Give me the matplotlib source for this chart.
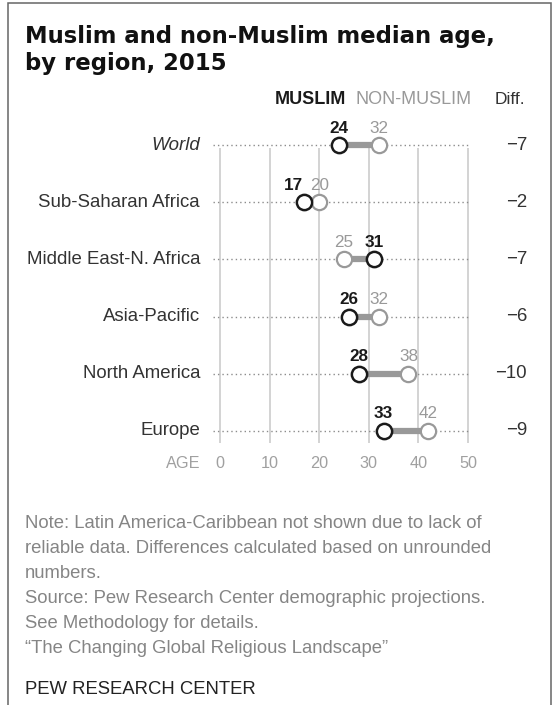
import matplotlib
matplotlib.use("Agg")
import matplotlib.pyplot as plt
from matplotlib.patches import Rectangle

plt.rcParams['font.family'] = ['Liberation Sans', 'DejaVu Sans']

# median ages, 2015
regions = ['World', 'Sub-Saharan Africa', 'Middle East-N. Africa',
           'Asia-Pacific', 'North America', 'Europe']
muslim = [24, 17, 31, 26, 28, 33]
non_muslim = [32, 20, 25, 32, 38, 42]
# gaps come from unrounded figures, so they are kept as printed
diff = [-7, -2, -7, -6, -10, -9]
age_ticks = [0, 10, 20, 30, 40, 50]

notes = [
    'Note: Latin America-Caribbean not shown due to lack of',
    'reliable data. Differences calculated based on unrounded',
    'numbers.',
    'Source: Pew Research Center demographic projections.',
    'See Methodology for details.',
    '\u201cThe Changing Global Religious Landscape\u201d',
]

W, H = 555, 705
BLACK = '#1a1a1a'
GRAY = '#999999'
TEXT = '#333333'

fig = plt.figure(figsize=(W / 100, H / 100), dpi=100)
fig.patch.set_facecolor('white')


def fy(py):
    # pixel row -> figure fraction
    return 1 - py / H


# outer frame
fig.patches.append(Rectangle((8 / W, -0.01), (551 - 8) / W, fy(3) + 0.01,
                             transform=fig.transFigure, fill=False,
                             ec='#666666', lw=1.1))

# title
fig.text(25 / W, fy(43), 'Muslim and non-Muslim median age,', fontsize=16.4,
         fontweight='bold', family='DejaVu Sans', color='#111111', va='baseline')
fig.text(25 / W, fy(70), 'by region, 2015', fontsize=16.4,
         fontweight='bold', family='DejaVu Sans', color='#111111', va='baseline')

ax = fig.add_axes([213 / W, fy(443), 257 / W, 295 / H])
ax.set_xlim(-1.4, 50.4)
ax.set_ylim(5.21, 0.05)
for s in ax.spines.values():
    s.set_visible(False)
ax.set_yticks([])
ax.set_xticks(age_ticks)
ax.tick_params(axis='x', length=0, pad=9, labelsize=11.7, labelcolor='#a0a0a0')
ax.grid(axis='x', color='#cccccc', lw=1.2)
ax.set_axisbelow(True)

rows = list(range(len(regions)))

ax.hlines(rows, -1.4, 50, colors='#8c8c8c', linestyles=(0, (1, 2.2)), lw=1.0,
          clip_on=False, zorder=2)
ax.hlines(rows, muslim, non_muslim, colors=GRAY, lw=4.5, clip_on=False, zorder=3)
ax.plot(non_muslim, rows, 'o', ms=11, mfc='white', mec=GRAY, mew=1.6,
        clip_on=False, zorder=4)
ax.plot(muslim, rows, 'o', ms=11, mfc='white', mec=BLACK, mew=1.8,
        clip_on=False, zorder=5)

for i, name in enumerate(regions):
    italic = 'italic' if name == 'World' else 'normal'
    ax.text(-4.0, i, name, ha='right', va='center', fontsize=13.4,
            color=TEXT, style=italic)
    m_dx = -8 if abs(muslim[i] - non_muslim[i]) < 5 and muslim[i] < non_muslim[i] else 0
    ax.annotate(str(muslim[i]), xy=(muslim[i], i), xytext=(m_dx, 9),
                textcoords='offset points', ha='center', va='baseline',
                fontsize=12.3, fontweight='bold', color=BLACK,
                annotation_clip=False)
    ax.annotate(str(non_muslim[i]), xy=(non_muslim[i], i), xytext=(0, 9),
                textcoords='offset points', ha='center', va='baseline',
                fontsize=12.3, color=GRAY, annotation_clip=False)
    ax.text(61.9, i, '\u2212' + str(abs(diff[i])), ha='right', va='center',
            fontsize=13.4, color=TEXT)

# column headers
ax.text(25.4, -0.79, 'MUSLIM', ha='right', va='center', fontsize=13,
        fontweight='bold', color=BLACK)
ax.text(27.4, -0.79, 'NON-MUSLIM', ha='left', va='center', fontsize=13,
        color=GRAY)
ax.text(61.5, -0.79, 'Diff.', ha='right', va='center', fontsize=12.5, color=TEXT)

fig.text(200 / W, fy(464), 'AGE', ha='right', va='center', fontsize=11.7,
         color='#a0a0a0')

for k, line in enumerate(notes):
    fig.text(25 / W, fy(528 + k * 25), line, fontsize=13.3, color='#858585',
             va='baseline')
fig.text(25 / W, fy(694), 'PEW RESEARCH CENTER', fontsize=13.3,
         color='#222222', va='baseline')

fig.savefig('out.png', dpi=100, facecolor='white')
